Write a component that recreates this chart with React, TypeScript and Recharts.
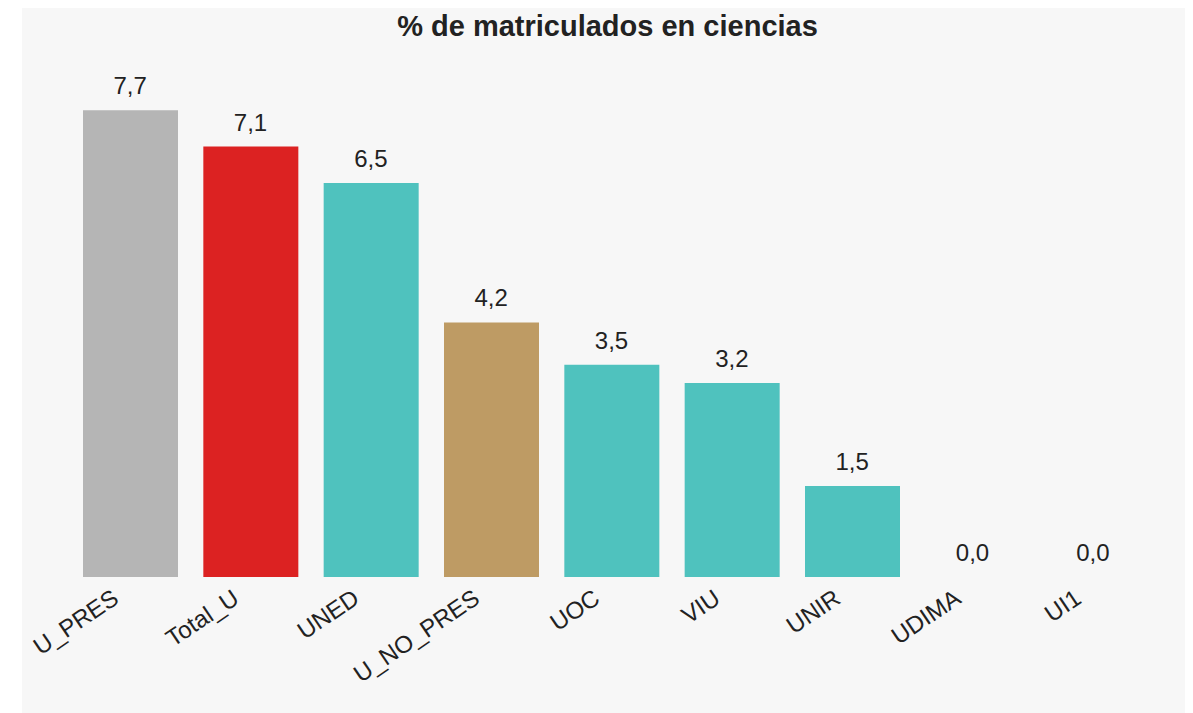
import { ComposedChart, Bar, Line, XAxis, YAxis, Cell, LabelList } from "recharts";

const universidades = ["U_PRES", "Total_U", "UNED", "U_NO_PRES", "UOC", "VIU", "UNIR", "UDIMA", "UI1"];
const porcentajes = [7.7, 7.1, 6.5, 4.2, 3.5, 3.2, 1.5, 0.0, 0.0];
const colores = ["#b5b5b5", "#dc2222", "#4fc2be", "#be9b64", "#4fc2be", "#4fc2be", "#4fc2be", "#4fc2be", "#4fc2be"];

const data = universidades.map((name, i) => ({ name, valor: porcentajes[i] }));

const FONT = '"Liberation Sans", Arial, sans-serif';

const formatValor = (v: any) => Number(v).toFixed(1).replace(".", ",");

const RotatedTick = (props: any) => {
  const { x, y, payload } = props;
  return (
    <g transform={`translate(${x - 10},${y + 17}) rotate(-34)`}>
      <text x={0} y={0} textAnchor="end" fill="#222" fontSize={24} fontFamily={FONT}>
        {payload.value}
      </text>
    </g>
  );
};

const App = () => {
  return (
    <div
      style={{
        position: "relative",
        marginLeft: 14,
        width: 1171,
        height: 705,
        background: "#f7f7f7",
      }}
    >
      <div
        style={{
          position: "absolute",
          top: 2,
          left: 0,
          width: "100%",
          textAlign: "center",
          fontFamily: FONT,
          fontWeight: "bold",
          fontSize: 29,
          color: "#222",
        }}
      >
        % de matriculados en ciencias
      </div>
      <ComposedChart
        width={1171}
        height={705}
        data={data}
        margin={{ top: 84, right: 40, left: 48, bottom: 0 }}
      >
        <XAxis
          dataKey="name"
          axisLine={false}
          tickLine={false}
          interval={0}
          height={136}
          tick={<RotatedTick />}
        />
        <YAxis hide domain={[0, 8]} />
        <Bar dataKey="valor" barSize={95} isAnimationActive={false}>
          {data.map((d, i) => (
            <Cell key={d.name} fill={colores[i]} />
          ))}
        </Bar>
        <Line
          dataKey="valor"
          stroke="none"
          dot={false}
          activeDot={false}
          isAnimationActive={false}
        >
          <LabelList
            dataKey="valor"
            position="top"
            offset={16}
            formatter={formatValor}
            fill="#222"
            fontSize={24}
            fontFamily={FONT}
          />
        </Line>
      </ComposedChart>
    </div>
  );
};

export default App;
